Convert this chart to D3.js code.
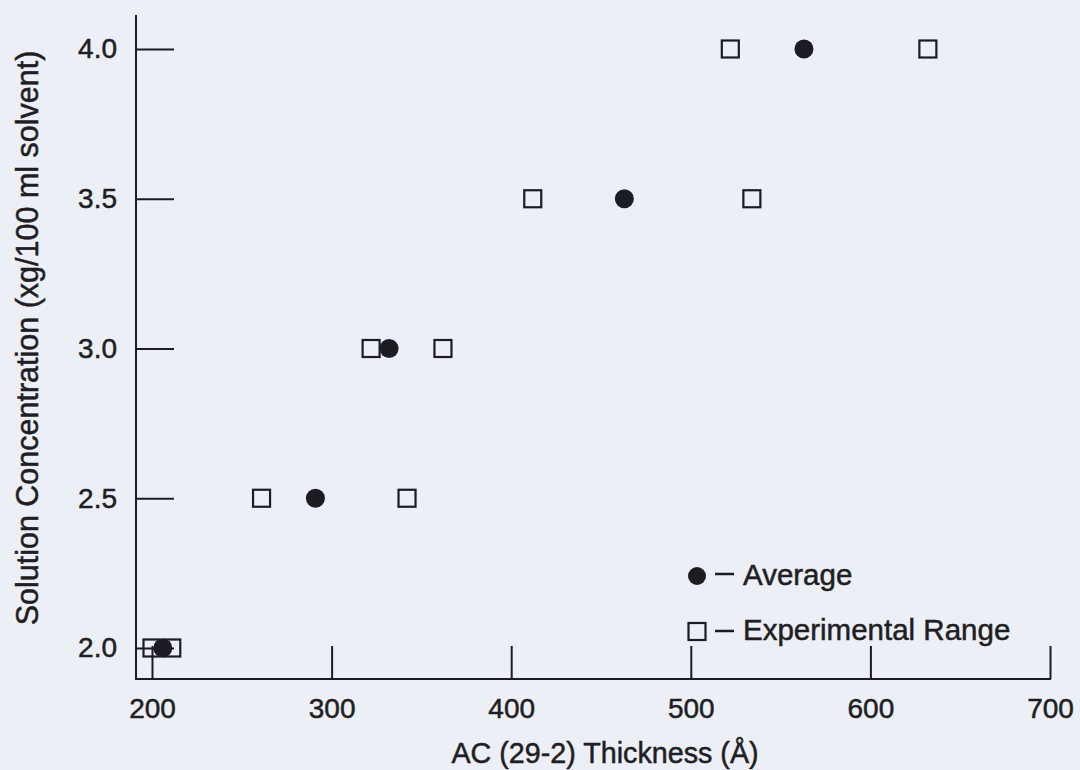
<!DOCTYPE html>
<meta charset="utf-8">
<style>
    body { margin: 0; background: #edeff6; }
    svg { display: block; }
    text { font-family: "Liberation Sans", Arial, sans-serif; fill: #1e1e24; stroke: #1e1e24; stroke-width: 0.5px; }
    .axis text { font-size: 28px; }
    .axis line, .axis path { stroke: #1c1c22; stroke-width: 2; }
</style>
<script src="https://cdn.jsdelivr.net/npm/d3@7"></script>
<body>
<svg></svg>
</body>
<script>

    // concentration rows and thickness readings (Å)
    var concentration = [2.0, 2.5, 3.0, 3.5, 4.0];
    var averageThickness = [206, 291, 332, 463, 563];
    var rangeLow = [200, 261, 322, 412, 522];
    var rangeHigh = [211, 342, 362, 534, 632];
    var xTicks = [200, 300, 400, 500, 600, 700];
    var yTicks = [2.0, 2.5, 3.0, 3.5, 4.0];

    var svg = d3.select('svg')
            .attr('width', 1080)
            .attr('height', 770);

    var x = d3.scaleLinear().domain([200, 700]).range([152, 1050]);
    var y = d3.scaleLinear().domain([2, 4]).range([648, 49]);

    var ink = '#1c1c22';

    // axis lines run a bit past the tick range
    svg.append('line')
            .attr('x1', 136).attr('x2', 136)
            .attr('y1', 15).attr('y2', 680)
            .style('stroke', ink).style('stroke-width', 2);
    svg.append('line')
            .attr('x1', 135).attr('x2', 1051)
            .attr('y1', 679).attr('y2', 679)
            .style('stroke', ink).style('stroke-width', 2);

    var yAxis = svg.append('g')
            .attr('class', 'axis')
            .attr('transform', 'translate(136,0)')
            .call(d3.axisLeft(y).tickValues(yTicks).tickFormat(d3.format('.1f'))
                    .tickSize(-38).tickPadding(19));
    yAxis.select('.domain').remove();

    var xAxis = svg.append('g')
            .attr('class', 'axis')
            .attr('transform', 'translate(0,679)')
            .call(d3.axisBottom(x).tickValues(xTicks).tickFormat(d3.format('d'))
                    .tickSize(-33).tickPadding(19));
    xAxis.select('.domain').remove();

    // experimental range squares
    var squares = [];
    concentration.forEach(function (c, i) {
        squares.push({c: c, t: rangeLow[i]});
        squares.push({c: c, t: rangeHigh[i]});
    });
    svg.selectAll('.sq')
            .data(squares)
            .enter().append('rect')
            .attr('class', 'sq')
            .attr('x', function (d) { return x(d.t) - 8.5; })
            .attr('y', function (d) { return y(d.c) - 8.5; })
            .attr('width', 17)
            .attr('height', 17)
            .style('fill', 'none')
            .style('stroke', ink)
            .style('stroke-width', 2.2);

    // averages
    svg.selectAll('.avg')
            .data(concentration)
            .enter().append('circle')
            .attr('class', 'avg')
            .attr('cx', function (d, i) { return x(averageThickness[i]); })
            .attr('cy', function (d) { return y(d); })
            .attr('r', 9.5)
            .style('fill', ink);

    // legend
    var legend = svg.append('g').attr('transform', 'translate(697,0)');
    legend.append('circle').attr('cx', 0).attr('cy', 576).attr('r', 9).style('fill', ink);
    legend.append('rect').attr('x', -8.5).attr('y', 623).attr('width', 17).attr('height', 17)
            .style('fill', 'none').style('stroke', ink).style('stroke-width', 2.2);
    [574, 631].forEach(function (ly) {
        legend.append('line').attr('x1', 18).attr('x2', 37).attr('y1', ly).attr('y2', ly)
                .style('stroke', ink).style('stroke-width', 2.5);
    });
    legend.append('text').attr('x', 46).attr('y', 585).style('font-size', '29.5px').text('Average');
    legend.append('text').attr('x', 46).attr('y', 640).style('font-size', '29.5px').text('Experimental Range');

    // axis titles
    svg.append('text')
            .attr('x', 605).attr('y', 763)
            .attr('text-anchor', 'middle')
            .style('font-size', '28.7px')
            .text('AC (29-2) Thickness (\u00c5)');
    svg.append('text')
            .attr('transform', 'translate(38,338) rotate(-90)')
            .attr('text-anchor', 'middle')
            .style('font-size', '30.5px')
            .text('Solution Concentration (xg/100 ml solvent)');

</script>
</html>
